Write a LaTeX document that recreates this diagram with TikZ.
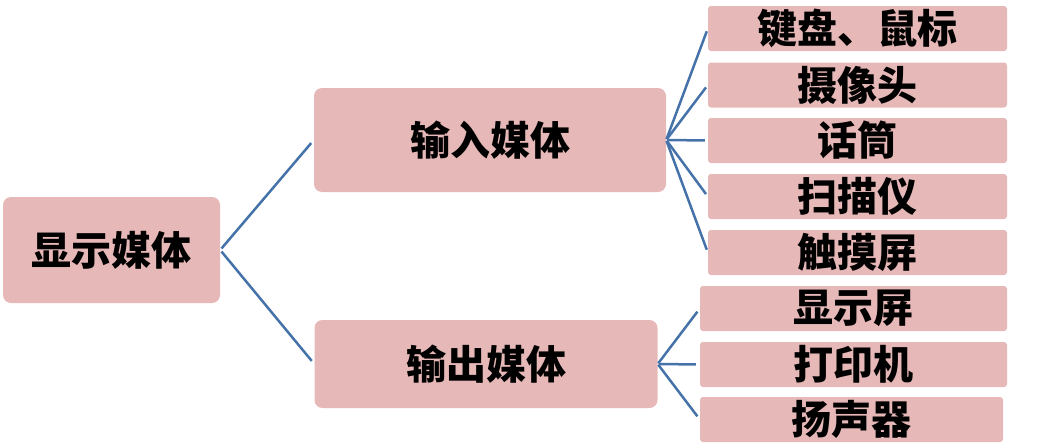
\documentclass[tikz,border=0pt]{standalone}
\usepackage{fontspec}
\newfontfamily\cjk{Noto Sans CJK SC}
\definecolor{boxpink}{RGB}{230,184,183}
\definecolor{linkblue}{RGB}{70,114,170}
\begin{document}
\begin{tikzpicture}[x=1pt,y=-1pt,
  box/.style={fill=boxpink, rounded corners=8pt, inner sep=0pt, font=\cjk\bfseries\fontsize{40}{40}\selectfont, text=black},
  leaf/.style={fill=boxpink, rounded corners=3pt, inner sep=0pt, minimum height=45pt, font=\cjk\bfseries\fontsize{40}{40}\selectfont, text=black},
  link/.style={draw=linkblue, line width=2.5pt}]
\useasboundingbox (0,0) rectangle (1062,447);
\node[box, minimum width=217pt, minimum height=106pt] (root) at (111.5,250) {显示媒体};
\node[box, minimum width=352pt, minimum height=104pt] (in) at (490,140) {输入媒体};
\node[box, minimum width=343pt, minimum height=88pt] (out) at (486,364) {输出媒体};
\node[leaf, minimum width=299pt] (i1) at (857.5,28.5) {键盘、鼠标};
\node[leaf, minimum width=299pt] (i2) at (857.5,85) {摄像头};
\node[leaf, minimum width=299pt] (i3) at (857.5,140.5) {话筒};
\node[leaf, minimum width=299pt] (i4) at (857.5,196.5) {扫描仪};
\node[leaf, minimum width=299pt] (i5) at (857.5,252.5) {触摸屏};
\node[leaf, minimum width=307pt] (o1) at (853.5,308.5) {显示屏};
\node[leaf, minimum width=307pt] (o2) at (853.5,364.5) {打印机};
\node[leaf, minimum width=303pt] (o3) at (851.5,419.5) {扬声器};
\draw[link, shorten <=2pt, shorten >=4pt] (root.east) -- (in.west);
\draw[link, shorten <=2pt, shorten >=4pt] (root.east) -- (out.west);
\foreach \c in {i1,i2,i3,i4,i5}
  \draw[link, shorten <=1pt, shorten >=3pt] (in.east) -- (\c.west);
\foreach \c in {o1,o2,o3}
  \draw[link, shorten <=1pt, shorten >=4pt] (out.east) -- (\c.west);
\end{tikzpicture}
\end{document}
